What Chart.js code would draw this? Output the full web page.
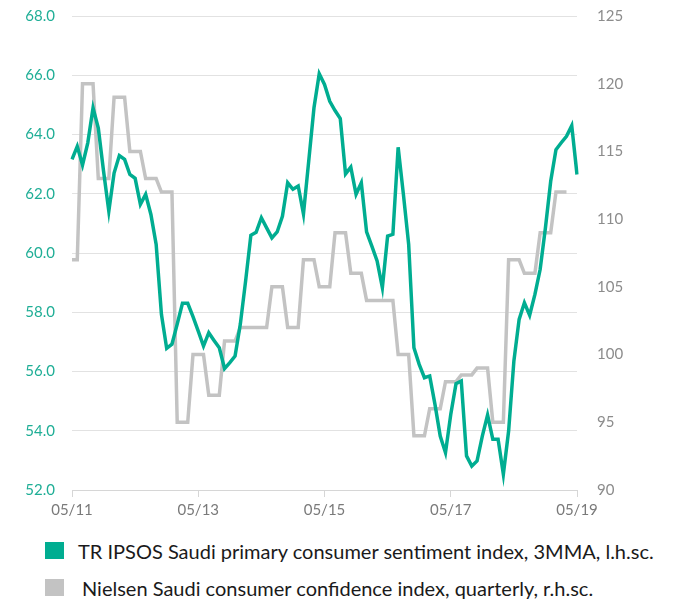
<!DOCTYPE html>
<html>
<head>
<meta charset="utf-8">
<script src="https://cdn.jsdelivr.net/npm/chart.js@4.4.1/dist/chart.umd.min.js"></script>
<style>
    body { margin: 0; background: #fff; font-family: Lato, "Noto Sans", sans-serif; overflow: hidden; }
    #wrap { position: relative; width: 695px; height: 536px; margin-top: -13px; }
    .legend { position: absolute; left: 45px; font-size: 20px; color: #1a1a1a; white-space: nowrap; }
    .legend .item { display: flex; align-items: center; height: 37px; }
    .legend .box { width: 19px; height: 17px; margin-right: 14px; flex: none; }
</style>
</head>
<body>
<div id="wrap"><canvas id="chart"></canvas></div>
<div class="legend" style="top: 532px;">
    <div class="item"><span class="box" style="background:#00AD91"></span>TR IPSOS Saudi primary consumer sentiment index, 3MMA, l.h.sc.</div>
    <div class="item"><span class="box" style="background:#C3C3C3"></span><span style="margin-left:4px">Nielsen Saudi consumer confidence index, quarterly, r.h.sc.</span></div>
</div>
<script>
// monthly, 05/11 .. 05/19
const tickLabels = ["05/11", "05/13", "05/15", "05/17", "05/19"];

const ipsos = [
    63.16, 63.6, 62.97, 63.72, 64.9, 64.22, 62.76, 61.41, 62.7, 63.29,
    63.16, 62.65, 62.52, 61.64, 61.98, 61.3, 60.29, 57.93, 56.78, 56.92,
    57.6, 58.3, 58.3, 57.85, 57.36, 56.86, 57.31, 57.05, 56.8, 56.1,
    56.3, 56.52, 57.6, 59.05, 60.6, 60.7, 61.19, 60.85, 60.51, 60.71,
    61.24, 62.37, 62.15, 62.26, 61.32, 63.1, 64.9, 66.05, 65.69, 65.12,
    64.81, 64.54, 62.67, 62.9, 61.98, 62.37, 60.71, 60.23, 59.73, 58.83,
    60.57, 60.63, 63.57, 61.98, 60.29, 56.8, 56.24, 55.79, 55.85, 54.89,
    53.82, 53.26, 54.55, 55.59, 55.68, 53.15, 52.81, 52.98, 53.82, 54.53,
    53.71, 53.71, 52.53, 53.99, 56.35, 57.76, 58.32, 57.9, 58.6, 59.45,
    60.85, 62.42, 63.49, 63.72, 63.94, 64.3, 62.65
];

const nielsen = [
    107, 107, 120, 120, 120, 113, 113, 113, 119, 119,
    119, 115, 115, 115, 113, 113, 113, 112, 112, 112,
    95, 95, 95, 100, 100, 100, 97, 97, 97, 101,
    101, 101, 102, 102, 102, 102, 102, 102, 105, 105,
    105, 102, 102, 102, 107, 107, 107, 105, 105, 105,
    109, 109, 109, 106, 106, 106, 104, 104, 104, 104,
    104, 104, 100, 100, 100, 94, 94, 94, 96, 96,
    96, 98, 98, 98, 98.5, 98.5, 98.5, 99, 99, 99,
    95, 95, 95, 107, 107, 107, 106, 106, 106, 109,
    109, 109, 112, 112, 112, null, null
];

// month labels: every 24th month gets a tick label
const labels = ipsos.map((v, i) => (i % 24 === 0 ? tickLabels[i / 24] : ""));

const ctx = document.getElementById("chart").getContext("2d");
new Chart(ctx, {
    type: "line",
    data: {
        labels: labels,
        datasets: [
            {
                label: "TR IPSOS Saudi primary consumer sentiment index, 3MMA, l.h.sc.",
                data: ipsos,
                borderColor: "#00AD91",
                borderWidth: 3.5,
                pointRadius: 0,
                tension: 0,
                yAxisID: "y",
            },
            {
                label: "Nielsen Saudi consumer confidence index, quarterly, r.h.sc.",
                data: nielsen,
                borderColor: "#C3C3C3",
                borderWidth: 3.5,
                pointRadius: 0,
                tension: 0,
                yAxisID: "y1",
            },
        ],
    },
    options: {
        responsive: true,
        maintainAspectRatio: false,
        animation: false,
        layout: { padding: 0 },
        plugins: {
            legend: { display: false },
            tooltip: { enabled: false },
        },
        scales: {
            x: {
                offset: false,
                border: { display: true, color: "#D6D6D6" },
                grid: {
                    drawOnChartArea: false,
                    tickLength: 7,
                    color: (c) => (c.index % 24 === 0 ? "#D6D6D6" : "transparent"),
                },
                ticks: {
                    autoSkip: false,
                    maxRotation: 0,
                    color: "#7A7A7A",
                    font: { family: "Lato", size: 15 },
                    padding: 4,
                },
            },
            y: {
                position: "left",
                min: 52,
                max: 68,
                afterFit: (s) => { s.width = 72; },
                border: { display: false },
                grid: { color: "#E2E2E2", drawTicks: false },
                ticks: {
                    stepSize: 2,
                    color: "#1FAE96",
                    padding: 17,
                    font: { family: "Lato", size: 15 },
                    callback: (v) => v.toFixed(1),
                },
            },
            y1: {
                position: "right",
                min: 90,
                max: 125,
                afterFit: (s) => { s.width = 118; },
                border: { display: false },
                grid: { drawOnChartArea: false, drawTicks: false },
                ticks: {
                    stepSize: 5,
                    color: "#8C8C8C",
                    padding: 20,
                    font: { family: "Lato", size: 15 },
                },
            },
        },
    },
});
</script>
</body>
</html>
